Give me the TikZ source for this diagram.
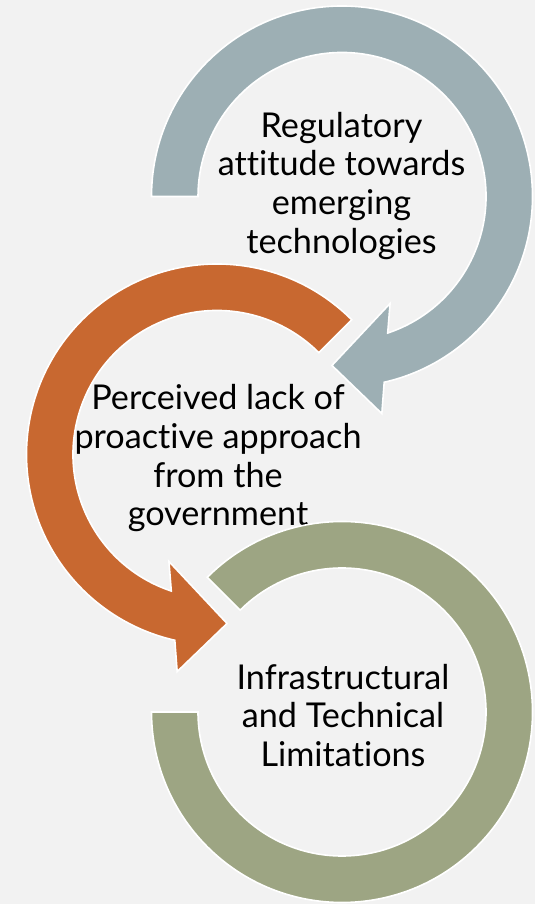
\documentclass[tikz,border=0pt]{standalone}
\usepackage{fontspec}
\setmainfont{Lato}[Ligatures={NoCommon,NoRare}]
\usetikzlibrary{calc}
\definecolor{bgc}{RGB}{242,242,242}
\definecolor{bluegray}{RGB}{157,175,180}
\definecolor{rust}{RGB}{200,104,48}
\definecolor{sage}{RGB}{157,165,131}
\tikzset{
  ring/.style={draw=white, line width=1.6pt, line join=miter},
  label/.style={align=center, inner sep=0pt, anchor=north, text=black,
    font=\fontsize{34.2}{38.8}\selectfont},
}
\newcommand{\fs}{\rule{0pt}{30pt}}
\begin{document}
\begin{tikzpicture}[x=1pt,y=1pt]
\useasboundingbox (0,0) rectangle (535,904);
\fill[bgc] (0,0) rectangle (535,904);
\def\Ro{190.5pt}
\def\Ri{144pt}
\coordinate (C1) at (342,707.5);
\coordinate (C2) at (217,449.5);
\coordinate (C3) at (342,192);
% top arrow
\path[ring, fill=bluegray] ($(C1)+(180:\Ro)$) arc[start angle=180, end angle=-77.2, radius=\Ro]
  -- ($(C1)+(-79.6:220.7pt)$) -- ($(C1)+(-93.4:169.3pt)$) -- ($(C1)+(-65.8:117.3pt)$)
  -- ($(C1)+(-71.5:\Ri)$) arc[start angle=-71.5, end angle=180, radius=\Ri] -- cycle;
\node[label] (t1) at (341.5,797) {\fs Regulatory\\attitude towards\\emerging\\technologies};
% middle arrow
\path[ring, fill=rust] ($(C2)+(45:\Ro)$) arc[start angle=45, end angle=257.2, radius=\Ro]
  -- ($(C2)+(259.6:220.7pt)$) -- ($(C2)+(273.4:169.3pt)$) -- ($(C2)+(245.8:117.3pt)$)
  -- ($(C2)+(251.5:\Ri)$) arc[start angle=251.5, end angle=45, radius=\Ri] -- cycle;
\node[label] (t2) at (218,524.7) {\fs Perceived lack of\\proactive approach\\from the\\government};
% bottom ring
\path[ring, fill=sage] ($(C3)+(135:\Ro)$) arc[start angle=135, end angle=-180, radius=\Ro]
  -- ($(C3)+(180:\Ri)$) arc[start angle=-180, end angle=135, radius=\Ri] -- cycle;
\node[label] (t3) at (343,245) {\fs Infrastructural\\and Technical\\Limitations};
\end{tikzpicture}
\end{document}
